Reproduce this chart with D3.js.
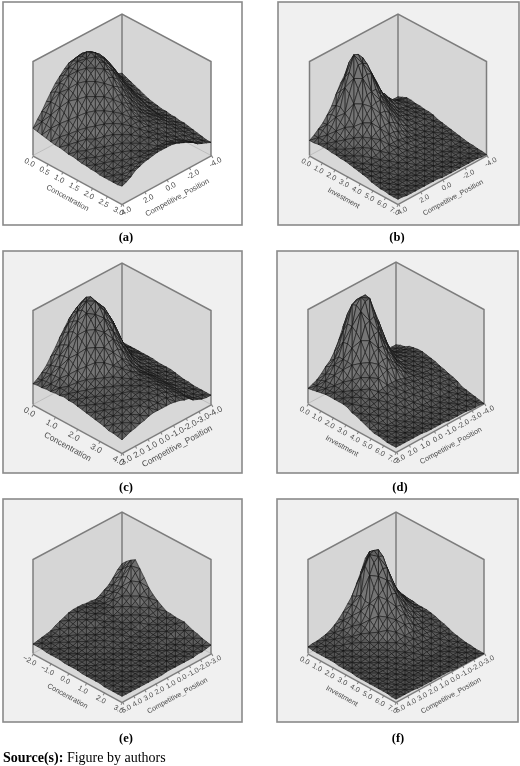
<!DOCTYPE html>
<html>
<head>
<meta charset="utf-8">
<script src="https://cdn.jsdelivr.net/npm/d3@7"></script>
<style>
  html, body { margin: 0; padding: 0; background: #fff; }
  svg { display: block; }
</style>
</head>
<body>
<svg width="520" height="766"></svg>
<script>
// tick labels
var concentrationTicksA = [0, 0.5, 1, 1.5, 2, 2.5, 3];
var concentrationTicksC = [0, 1, 2, 3, 4];
var concentrationTicksE = [-2, -1, 0, 1, 2, 3];
var investmentTicks = [0, 1, 2, 3, 4, 5, 6, 7];
var positionTicksAB = [4, 2, 0, -2, -4];
var positionTicksCD = [3, 2, 1, 0, -1, -2, -3, -4];
var positionTicksEF = [5, 4, 3, 2, 1, 0, -1, -2, -3];

// surface heights in percent of the box height
// rows run along the x axis (0 at the left corner), columns along Competitive_Position
var surfaceA = [
  [29,36,42,50,57,64,69,74,78,79,80,78,75,70,64,58,52,47,42,39,37],
  [28,36,43,52,60,67,73,78,83,85,86,84,81,75,68,61,54,48,42,38,35],
  [27,35,43,52,62,68,75,80,85,88,90,88,84,78,70,62,54,47,40,36,33],
  [26,34,41,51,61,66,74,80,86,88,92,89,85,79,71,62,53,45,38,34,31],
  [25,32,39,48,58,64,72,78,83,86,90,87,83,77,69,60,51,43,36,32,29],
  [24,30,36,43,52,60,68,74,80,83,87,84,80,73,65,57,48,40,34,29,27],
  [24,28,33,40,47,56,63,69,74,78,82,79,75,68,60,52,45,37,31,27,25],
  [23,27,32,37,43,51,58,63,69,72,76,73,69,62,55,48,41,35,29,26,24],
  [22,26,30,35,40,47,53,58,63,66,69,66,62,56,49,43,37,33,27,25,23],
  [22,25,28,33,37,42,48,53,58,60,62,60,56,50,44,39,35,31,26,24,22],
  [21,24,26,31,33,39,44,48,52,54,56,54,50,45,40,36,33,30,25,23,22],
  [20,23,25,29,32,36,41,45,48,50,51,49,46,42,38,35,32,29,25,23,21],
  [20,22,24,28,30,34,38,41,44,45,46,45,42,39,37,35,32,28,25,22,21],
  [19,21,23,26,29,32,35,38,40,42,43,42,40,37,36,34,31,27,24,21,20],
  [19,21,23,25,28,31,34,36,38,39,39,39,37,36,35,32,29,26,23,21,20],
  [18,20,22,25,27,30,32,34,35,36,37,36,35,34,33,30,27,25,22,20,19],
  [18,20,22,24,26,29,31,33,34,35,35,35,34,32,30,28,26,24,21,20,18],
  [18,20,21,24,26,28,30,31,32,33,34,33,33,31,29,26,24,22,20,19,17],
  [18,19,21,24,26,28,30,31,31,31,31,31,31,29,28,25,22,20,19,17,16],
  [18,20,22,25,27,29,31,32,33,33,33,33,32,30,28,26,23,20,18,17,15],
  [19,21,24,28,30,32,33,34,35,35,35,35,34,32,30,28,25,21,19,17,15]
];
var surfaceB = [
  [16,19,23,27,33,40,50,59,66,62,55,45,35,28,23,18,16,14,12,12,12],
  [16,19,24,28,36,43,56,68,82,80,72,60,48,38,33,28,23,18,15,14,14],
  [17,19,22,28,36,44,62,76,92,90,84,70,58,47,36,33,26,21,18,16,16],
  [17,18,21,26,33,40,58,72,84,83,80,68,57,45,36,30,23,20,18,16,16],
  [17,18,20,24,30,36,50,63,72,74,72,60,50,39,31,25,20,18,17,16,15],
  [16,17,19,22,26,31,41,50,57,58,58,50,43,34,27,22,19,18,17,15,15],
  [16,16,17,20,24,28,35,42,47,49,49,43,36,29,23,20,18,17,16,15,14],
  [15,15,16,18,21,25,30,35,38,40,40,36,30,25,20,18,16,16,15,14,14],
  [15,14,15,17,19,21,24,27,29,30,30,28,24,20,17,15,15,14,14,13,13],
  [14,13,13,15,16,18,20,22,23,23,23,21,19,16,14,13,13,12,12,12,11],
  [13,12,12,12,13,13,15,16,17,17,17,16,15,13,12,11,11,11,11,11,10],
  [12,11,10,11,11,11,12,13,14,14,14,14,13,12,11,10,10,10,10,10,9],
  [11,10,9,9,9,10,10,10,11,11,11,11,10,10,9,9,9,9,9,9,8],
  [10,9,8,8,8,8,8,8,9,9,9,9,9,8,8,8,8,8,8,8,7],
  [8,8,7,7,7,7,7,7,8,8,8,7,7,7,7,7,7,7,7,6,6],
  [7,7,6,6,5,5,6,6,6,6,6,6,6,6,5,5,5,5,5,5,5],
  [6,6,6,5,5,5,5,5,5,5,5,5,5,5,5,5,5,5,5,5,4],
  [6,5,5,5,5,5,5,5,5,5,5,5,4,4,4,4,4,4,4,4,4],
  [5,5,5,4,4,4,4,4,4,4,4,4,4,4,4,4,3,3,3,3,3],
  [5,5,5,4,4,4,4,4,4,4,4,4,4,4,3,3,3,3,3,3,3],
  [5,5,4,4,4,4,4,4,4,4,3,3,3,3,3,3,3,3,3,2,2]
];
var surfaceC = [
  [22,25,29,34,41,48,56,63,70,74,75,71,66,56,47,35,28,22,19,17,16],
  [23,26,31,37,46,53,64,72,80,84,87,80,74,64,55,44,35,25,20,18,16],
  [23,27,32,38,47,56,67,76,84,91,94,85,80,71,62,50,40,27,22,18,16],
  [24,27,33,40,49,58,70,79,88,95,97,90,84,74,65,51,39,27,23,20,16],
  [24,27,33,40,49,57,69,78,87,92,95,88,83,73,63,48,35,26,22,19,16],
  [25,28,32,37,46,54,65,74,83,86,91,85,78,68,55,41,33,26,22,19,16],
  [25,28,30,35,42,50,60,68,75,79,82,76,71,61,48,37,29,24,20,18,16],
  [26,27,29,34,39,46,54,61,69,72,73,68,62,53,43,32,26,23,20,18,16],
  [25,27,29,33,37,42,50,56,61,64,65,60,54,45,38,29,25,21,19,17,15],
  [25,26,28,31,35,38,44,50,55,56,57,53,47,39,32,26,23,20,18,16,15],
  [24,26,28,30,33,36,39,43,47,48,49,46,41,34,30,25,22,20,17,16,15],
  [23,25,27,29,31,34,37,40,43,44,45,42,37,32,28,25,21,19,17,15,15],
  [22,24,26,28,30,33,35,37,39,41,41,38,35,32,28,24,21,18,16,15,14],
  [21,23,25,27,29,31,34,36,37,38,39,37,35,32,28,24,20,17,15,14,13],
  [20,23,25,27,29,31,33,35,36,37,37,36,34,31,27,23,19,16,15,13,12],
  [19,22,24,26,28,30,33,35,36,36,36,35,33,30,26,23,19,16,14,13,12],
  [18,21,24,26,28,30,32,34,34,35,35,34,32,29,26,22,18,15,13,12,11],
  [16,20,23,25,28,29,31,32,33,33,33,32,31,28,25,21,17,14,13,12,11],
  [16,19,22,24,26,28,30,31,31,31,31,31,29,27,24,21,16,13,12,12,11],
  [15,18,20,22,24,25,27,28,28,28,29,28,27,25,23,20,16,13,12,11,11],
  [14,16,18,19,21,22,24,25,25,25,25,25,24,23,21,20,16,14,12,11,11]
];
var surfaceD = [
  [16,18,20,24,29,33,40,50,62,68,60,50,40,32,26,20,15,13,12,12,12],
  [17,19,22,26,32,37,48,62,78,82,75,65,52,41,34,25,19,15,13,13,14],
  [18,20,24,29,36,42,55,72,90,93,90,78,66,52,40,29,21,17,15,15,15],
  [19,21,24,30,36,42,56,72,92,98,98,84,70,55,40,29,21,19,17,17,18],
  [20,21,24,29,36,42,54,68,88,96,97,82,68,52,38,28,21,19,19,19,19],
  [20,22,24,28,32,41,50,62,76,78,80,68,58,44,32,25,21,20,20,20,20],
  [20,21,23,26,30,36,43,52,62,66,67,56,47,36,27,22,20,20,20,20,20],
  [20,21,22,24,28,33,38,44,52,54,54,46,40,31,25,21,20,20,20,19,19],
  [20,20,22,23,25,29,33,37,42,44,44,38,33,27,23,20,20,19,19,19,18],
  [19,20,20,22,24,26,29,32,34,36,36,32,28,24,21,20,19,19,18,18,17],
  [16,17,18,19,20,21,23,24,25,25,25,24,22,21,20,19,18,17,17,16,15],
  [15,15,16,17,18,19,20,21,22,22,22,21,20,19,18,18,17,16,16,15,14],
  [13,14,14,15,15,16,17,17,18,18,18,18,17,17,16,16,15,14,14,13,12],
  [11,12,12,13,13,14,14,14,15,15,15,15,15,14,14,14,13,12,12,11,11],
  [9,10,10,10,11,11,11,12,12,12,12,12,12,12,11,11,11,10,10,10,9],
  [7,7,8,8,8,8,9,9,9,9,9,9,9,9,9,8,8,8,8,7,6],
  [7,7,7,7,7,7,7,7,7,8,8,8,7,7,7,7,7,7,6,6,5],
  [6,6,6,6,6,6,6,6,6,6,6,6,6,6,6,6,5,5,5,5,4],
  [5,5,5,5,5,5,5,5,5,5,5,5,5,5,5,5,5,4,4,3,3],
  [5,5,5,5,5,5,5,5,5,4,4,4,4,4,4,4,3,3,3,3,2],
  [5,5,5,5,5,5,5,4,4,4,4,4,3,3,3,3,3,2,2,2,1]
];
var surfaceE = [
  [10,11,12,13,14,17,19,21,23,24,24,24,23,23,22,24,27,30,35,41,45],
  [10,11,12,13,14,16,18,20,22,24,24,24,23,23,23,25,29,33,38,44,50],
  [10,11,11,12,13,15,17,19,21,22,23,23,23,23,23,26,30,34,41,49,54],
  [9,10,11,12,13,14,16,18,20,21,22,22,22,23,24,27,32,36,44,53,57],
  [9,10,10,11,12,14,15,17,18,20,21,21,22,22,24,27,31,35,42,48,50],
  [9,10,10,11,11,13,14,15,16,17,19,19,20,20,22,25,28,31,37,41,43],
  [9,9,10,10,11,12,13,14,15,16,18,18,19,19,21,23,25,28,31,34,35],
  [8,9,10,10,11,12,13,14,15,16,16,17,17,18,20,21,23,24,27,29,30],
  [8,9,9,10,10,11,12,13,14,15,15,16,16,17,18,19,21,22,24,25,26],
  [8,8,9,9,10,10,11,12,12,13,14,15,15,16,16,18,19,20,21,22,23],
  [8,8,8,9,9,9,10,10,11,12,12,13,13,14,14,15,16,17,18,19,20],
  [7,8,8,8,9,9,9,10,10,11,11,12,12,13,13,14,15,16,17,18,20],
  [7,7,8,8,9,9,9,10,10,10,10,11,11,12,12,13,14,15,16,18,19],
  [7,7,8,8,8,9,9,9,9,10,10,10,11,11,12,13,13,14,16,17,19],
  [7,7,7,8,8,8,8,8,9,9,9,10,10,10,11,12,12,14,15,17,19],
  [7,7,7,7,7,7,8,8,8,8,8,9,9,9,9,10,10,11,13,15,17],
  [6,7,7,7,7,7,7,7,8,8,8,8,8,9,9,9,10,11,12,13,15],
  [6,7,7,7,7,7,7,7,7,7,8,8,8,8,8,9,9,10,11,12,14],
  [6,6,6,7,7,7,7,7,7,7,7,7,8,8,8,8,8,9,9,10,12],
  [6,6,6,6,6,6,7,7,7,7,7,7,7,7,7,8,8,8,9,9,11],
  [6,6,6,6,6,6,6,6,6,6,7,7,7,7,7,7,7,8,8,9,10]
];
var surfaceF = [
  [7,8,8,9,10,12,15,19,24,30,36,46,56,68,68,52,40,32,26,22,19],
  [6,7,8,9,10,12,15,20,26,32,38,58,68,78,74,54,38,31,24,20,17],
  [6,7,8,9,10,12,15,20,25,32,42,70,80,82,80,64,44,36,26,20,16],
  [6,7,7,8,10,12,14,19,23,30,38,63,74,78,76,60,44,33,25,20,15],
  [6,7,7,8,9,11,13,17,21,28,38,52,62,68,66,52,40,31,23,18,15],
  [6,6,7,8,8,11,13,16,20,26,38,46,50,58,54,44,36,28,22,17,14],
  [6,6,7,7,8,10,12,14,17,22,30,38,42,46,44,36,29,24,19,16,14],
  [5,6,6,7,7,9,10,12,14,18,24,29,32,35,34,28,23,19,17,15,14],
  [5,6,6,7,7,8,9,10,12,15,20,24,26,28,27,22,18,16,14,14,13],
  [5,5,6,6,7,7,8,9,10,12,15,18,20,21,20,16,14,13,13,12,12],
  [5,5,5,6,6,6,7,8,9,10,12,13,14,15,14,12,12,11,11,11,10],
  [4,5,5,5,6,6,7,7,8,8,9,10,11,11,10,10,10,9,9,9,9],
  [4,4,5,5,5,5,6,6,6,7,7,7,8,8,8,7,7,7,7,7,7],
  [4,4,4,5,5,5,5,5,5,6,6,6,6,6,6,6,6,6,6,6,5],
  [4,4,4,4,4,4,4,4,4,4,4,4,4,5,5,4,4,4,4,4,4],
  [4,4,4,4,4,4,3,3,3,3,3,3,3,3,3,3,3,3,3,3,3],
  [4,4,4,3,3,3,3,3,3,3,3,3,3,3,3,3,3,3,2,2,2],
  [4,3,3,3,3,3,3,3,3,3,3,3,3,3,2,2,2,2,2,2,2],
  [4,4,3,3,3,3,3,3,3,2,2,2,2,2,2,2,2,2,2,1,1],
  [3,3,3,3,3,3,2,2,2,2,2,2,2,2,2,2,2,1,1,1,1],
  [3,3,3,3,3,2,2,2,2,2,2,2,2,1,1,1,1,1,1,1,1]
];

// panel layout
var panels = [
  {caption:"(a)", capX:126, capY:241, z:surfaceA, xName:"Concentration", xTicks:concentrationTicksA, pTicks:positionTicksAB, frame:[3,2,239,223], bg:"#fff", cx:122, top:14, side:89, fs:7.6},
  {caption:"(b)", capX:397, capY:241, z:surfaceB, xName:"Investment", xTicks:investmentTicks, pTicks:positionTicksAB, frame:[278,2,241,223], bg:"#f0f0f0", cx:398, top:14, side:88.5, fs:7.2},
  {caption:"(c)", capX:126, capY:491, z:surfaceC, xName:"Concentration", xTicks:concentrationTicksC, pTicks:positionTicksCD, frame:[3,251,239,222], bg:"#f0f0f0", cx:122, top:263, side:89, fs:8.4},
  {caption:"(d)", capX:400, capY:491, z:surfaceD, xName:"Investment", xTicks:investmentTicks, pTicks:positionTicksCD, frame:[277,251,241,222], bg:"#f0f0f0", cx:396, top:262, side:88, fs:7.4},
  {caption:"(e)", capX:126, capY:742, z:surfaceE, xName:"Concentration", xTicks:concentrationTicksE, pTicks:positionTicksEF, frame:[3,499,239,223], bg:"#f0f0f0", cx:122, top:512, side:89, fs:7.2},
  {caption:"(f)", capX:398, capY:742, z:surfaceF, xName:"Investment", xTicks:investmentTicks, pTicks:positionTicksEF, frame:[277,499,241,223], bg:"#f0f0f0", cx:396, top:512, side:88, fs:7.2}
];

var svg = d3.select("svg");
svg.append("defs").append("filter").attr("id", "soft")
    .attr("filterUnits", "userSpaceOnUse")
    .attr("x", 0).attr("y", 0).attr("width", 520).attr("height", 766)
  .append("feGaussianBlur").attr("stdDeviation", 0.4);

var root = svg.append("g").attr("filter", "url(#soft)");
var shade = d3.scaleLinear().domain([0, 1]).range(["#505050", "#747474"]).clamp(true);

panels.forEach(function(p) {
  var g = root.append("g");
  g.append("rect")
      .attr("x", p.frame[0]).attr("y", p.frame[1])
      .attr("width", p.frame[2]).attr("height", p.frame[3])
      .attr("fill", p.bg).attr("stroke", "#8a8a8a").attr("stroke-width", 1.6);

  var halfH = 47.5, boxH = 94,
      topY = p.top, leftY = topY + halfH;
  var floorLeft = [p.cx - p.side, leftY + boxH],
      floorFront = [p.cx, leftY + boxH + halfH + 1],
      floorRight = [p.cx + p.side, leftY + boxH],
      floorBack = [p.cx, leftY + boxH - halfH];

  // grid node -> screen, i along the x axis, j along the position axis
  var n = p.z.length - 1;
  var ix = d3.scaleLinear().domain([0, n]).range([0, p.side]),
      iy = d3.scaleLinear().domain([0, n]).range([0, floorFront[1] - floorLeft[1]]),
      jx = d3.scaleLinear().domain([0, n]).range([0, p.side]),
      jy = d3.scaleLinear().domain([0, n]).range([0, floorBack[1] - floorLeft[1]]),
      zy = d3.scaleLinear().domain([0, 100]).range([0, boxH]);
  function node(i, j) {
    return [floorLeft[0] + ix(i) + jx(j), floorLeft[1] + iy(i) + jy(j) - zy(p.z[i][j])];
  }
  var line = d3.line();

  // walls and floor
  var walls = [
    [[p.cx - p.side, leftY], [p.cx, topY], floorBack, floorLeft],
    [[p.cx, topY], [p.cx + p.side, leftY], floorRight, floorBack],
    [floorLeft, floorBack, floorRight, floorFront]
  ];
  g.selectAll(".wall").data(walls).enter().append("path")
      .attr("class", "wall")
      .attr("d", function(d) { return line(d) + "Z"; })
      .attr("fill", function(d, k) { return k == 2 ? "#d8d8d8" : "#d6d6d6"; })
      .attr("stroke", "none");
  g.append("path")
      .attr("d", line([floorLeft, floorBack, floorRight]))
      .attr("fill", "none").attr("stroke", "#bdbdbd").attr("stroke-width", 1);
  var edges = [
    [floorLeft, [p.cx - p.side, leftY], [p.cx, topY], [p.cx + p.side, leftY], floorRight],
    [[p.cx, topY], floorBack]
  ];
  g.selectAll(".edge").data(edges).enter().append("path")
      .attr("class", "edge")
      .attr("d", line)
      .attr("fill", "none").attr("stroke", "#7d7d7d").attr("stroke-width", 1.5);

  // axes along the two front edges of the floor
  var len = Math.hypot(p.side, floorFront[1] - floorLeft[1]),
      ang = Math.atan2(floorFront[1] - floorLeft[1], p.side) * 180 / Math.PI;
  var xScale = d3.scaleLinear().domain(d3.extent(p.xTicks)).range([0, len]),
      pScale = d3.scaleLinear().domain([p.pTicks[0], p.pTicks[p.pTicks.length - 1]]).range([0, len]);
  var gx = g.append("g")
      .attr("transform", "translate(" + floorLeft + ") rotate(" + ang + ")")
      .call(d3.axisBottom(xScale).tickValues(p.xTicks).tickSize(3).tickSizeOuter(0).tickPadding(2).tickFormat(d3.format(".1f")));
  var gp = g.append("g")
      .attr("transform", "translate(" + floorFront + ") rotate(" + (-ang) + ")")
      .call(d3.axisBottom(pScale).tickValues(p.pTicks).tickSize(3).tickSizeOuter(0).tickPadding(2).tickFormat(function(d) { return d3.format(".1f")(d).replace("\u2212", "-"); }));
  gx.append("text").attr("x", len / 2).attr("y", 23).text(p.xName);
  gp.append("text").attr("x", len / 2 + 1).attr("y", 23).text("Competitive_Position");
  [gx, gp].forEach(function(a) {
    a.selectAll("text")
        .attr("fill", "#4a4a4a").attr("text-anchor", "middle")
        .style("font-family", "'Liberation Sans', Arial, sans-serif").style("font-size", p.fs + "px");
    a.selectAll(".domain").attr("stroke", "#7d7d7d").attr("stroke-width", 1.5);
    a.selectAll(".tick line").attr("stroke", "#7d7d7d");
  });

  // the surface, painted from the back corner to the front corner
  var tris = [];
  d3.range(n).forEach(function(i) {
    d3.range(n - 1, -1, -1).forEach(function(j) {
      var a = [i, j + 1], b = [i + 1, j + 1], c = [i, j], e = [i + 1, j];
      if ((i + j) % 2 == 0) tris.push([a, b, c], [b, e, c]);
      else tris.push([a, b, e], [a, e, c]);
    });
  });
  g.selectAll(".tri").data(tris).enter().append("path")
      .attr("class", "tri")
      .attr("d", function(t) { return line(t.map(function(q) { return node(q[0], q[1]); })) + "Z"; })
      .attr("fill", function(t) {
        // steeper faces read lighter in the original
        var zs = t.map(function(q) { return p.z[q[0]][q[1]]; });
        return shade((d3.max(zs) - d3.min(zs)) / 8);
      })
      .attr("stroke", "#161616").attr("stroke-width", 0.6).attr("stroke-linejoin", "round");

  root.append("text")
      .attr("x", p.capX).attr("y", p.capY).attr("text-anchor", "middle")
      .style("font-family", "'Liberation Serif', 'Times New Roman', serif")
      .style("font-weight", "bold").style("font-size", "12.5px")
      .text(p.caption);
});

var source = root.append("text").attr("x", 3).attr("y", 762)
    .style("font-family", "'Liberation Serif', 'Times New Roman', serif").style("font-size", "14px");
source.append("tspan").style("font-weight", "bold").text("Source(s):");
source.append("tspan").text(" Figure by authors");
</script>
</body>
</html>
